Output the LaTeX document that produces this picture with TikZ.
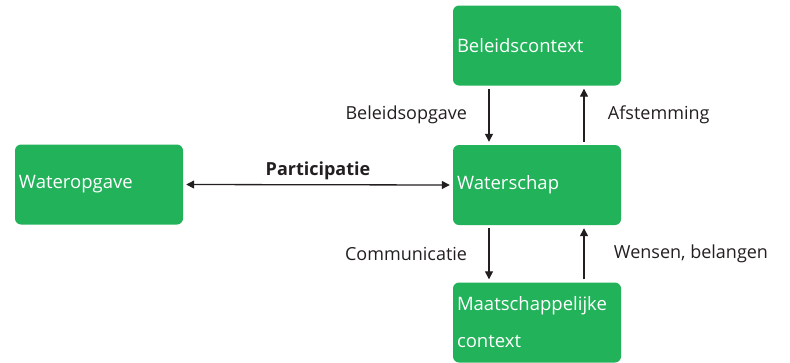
\documentclass[tikz,border=0pt]{standalone}
\usepackage{fontspec}
\setmainfont{Open Sans}
\usetikzlibrary{arrows.meta,positioning}
\definecolor{wsgreen}{RGB}{34,178,90}
\definecolor{lblgray}{RGB}{35,31,32}

\begin{document}
\begin{tikzpicture}[x=1pt,y=-1pt,>={Triangle[length=8pt,width=8pt]}]
	\tikzset{block/.style={fill=wsgreen, rounded corners=6pt, minimum width=168pt, minimum height=80pt,
			text width=160pt, align=left, inner sep=4pt, text=white, font=\fontsize{18.5}{37}\selectfont},
		lbl/.style={text=lblgray, font=\fontsize{18}{21}\selectfont},
		link/.style={->, line width=1.3pt, lblgray, shorten >=3pt, shorten <=3pt}
	}
	\useasboundingbox (0,0) rectangle (790,362);
	\node [block] (beleid) at (537,45.5) {Beleidscontext};
	\node [block] (water) at (537,185) {Waterschap};
	\node [block] (maat) at (537,322.5) {Maatschappelijke\\context};
	\node [block] (opgave) at (99,184.5) {Wateropgave};
	\draw [link] ([xshift=-48pt]beleid.south) -- node [lbl, left=18pt] {Beleidsopgave} ([xshift=-48pt]water.north);
	\draw [link] ([xshift=47pt]water.north) -- node [lbl, right=20pt] {Afstemming} ([xshift=47pt]beleid.south);
	\draw [link] ([xshift=-48pt]water.south) -- node [lbl, left=18pt] {Communicatie} ([xshift=-48pt]maat.north);
	\draw [link] ([xshift=47pt]maat.north) -- node [lbl, right=26pt] {Wensen, belangen} ([xshift=47pt]water.south);
	\draw [link, <->] (opgave.east) -- node [lbl, above=1pt, font=\bfseries\fontsize{18}{21}\selectfont] {Participatie} (water.west);
\end{tikzpicture}
\end{document}
